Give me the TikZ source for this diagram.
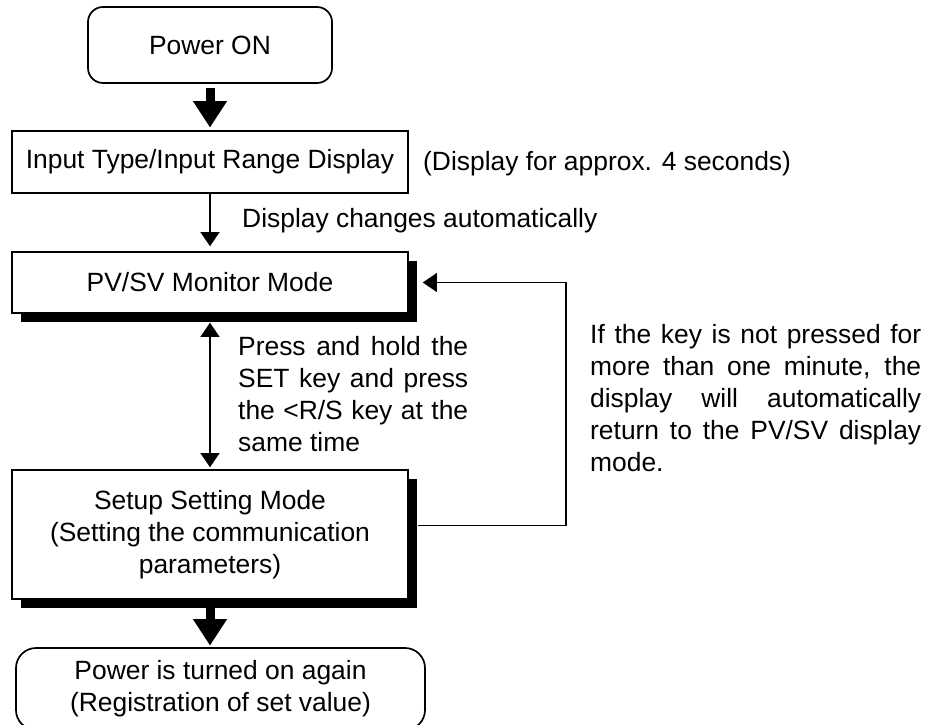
\documentclass[tikz,border=0pt]{standalone}
\usepackage{fontspec}
\setmainfont{Liberation Sans}
\usetikzlibrary{arrows.meta,shadows,calc}
\begin{document}
\begin{tikzpicture}[x=1pt,y=-1pt,
  txt/.style={font=\fontsize{26.4}{32}\selectfont, inner sep=0pt},
  box/.style={txt, draw, line width=1.7pt, fill=white, align=center},
  shbox/.style={box, drop shadow={shadow xshift=9pt, shadow yshift=-8.5pt, fill=black, opacity=1}},
  thickarr/.style={line width=9pt, -{Triangle[width=34pt,length=26pt,line width=0.1pt]}},
  thinarr/.style={line width=1.5pt, -{Triangle[width=19pt,length=14pt,line width=0.1pt]}},
  dblarr/.style={line width=1.5pt, {Triangle[width=19pt,length=14pt,line width=0.1pt]}-{Triangle[width=19pt,length=14pt,line width=0.1pt]}}
]
\useasboundingbox (0,0) rectangle (929,725);
\node[box, rounded corners=15pt, minimum width=244pt, minimum height=76pt] (pwr) at (210,45) {Power ON};
\node[box, minimum width=396pt, minimum height=62pt] (inp) at (210,162) {Input Type/Input Range Display};
\node[txt, anchor=base west] (note) at (423,170) {(Display for approx. 4 seconds)};
\node[txt, anchor=base west] (auto) at (242,227) {Display changes automatically};
\node[shbox, minimum width=396pt, minimum height=61pt] (pv) at (210,282.5) {PV/SV Monitor Mode};
\node[txt, anchor=north west, text width=230pt, align=justify] (press) at (238,336)
  {Press and hold the\linebreak SET key and press\linebreak the <R/S key at the\linebreak same time};
\node[shbox, minimum width=396pt, minimum height=129pt] (setup) at (210,534.5)
  {Setup Setting Mode\\(Setting the communication\\parameters)};
\node[txt, anchor=north west, text width=331pt, align=justify] (ret) at (590,324)
  {If the key is not pressed for\linebreak more than one minute, the\linebreak display will automatically\linebreak return to the PV/SV display\linebreak mode.};
\node[box, rounded corners=20pt, minimum width=409pt, minimum height=82pt] (fin) at (220.5,689)
  {Power is turned on again\\(Registration of set value)};
\coordinate (rx) at (566,282.5);
\draw[thickarr, shorten <=4pt, shorten >=3pt] (pwr.south) -- (inp.north);
\draw[thinarr, shorten >=5pt] (inp.south) -- (pv.north);
\draw[dblarr] ($(pv.south)+(0,9)$) -- ($(setup.north)+(0,-2)$);
\draw[thickarr, shorten >=2pt] ($(setup.south)+(0,8)$) -- (setup.south |- fin.north);
\draw[thinarr] ($(setup.east)+(9,-9)$) -| (rx) -- ($(pv.east)+(14,0)$);
\end{tikzpicture}
\end{document}
